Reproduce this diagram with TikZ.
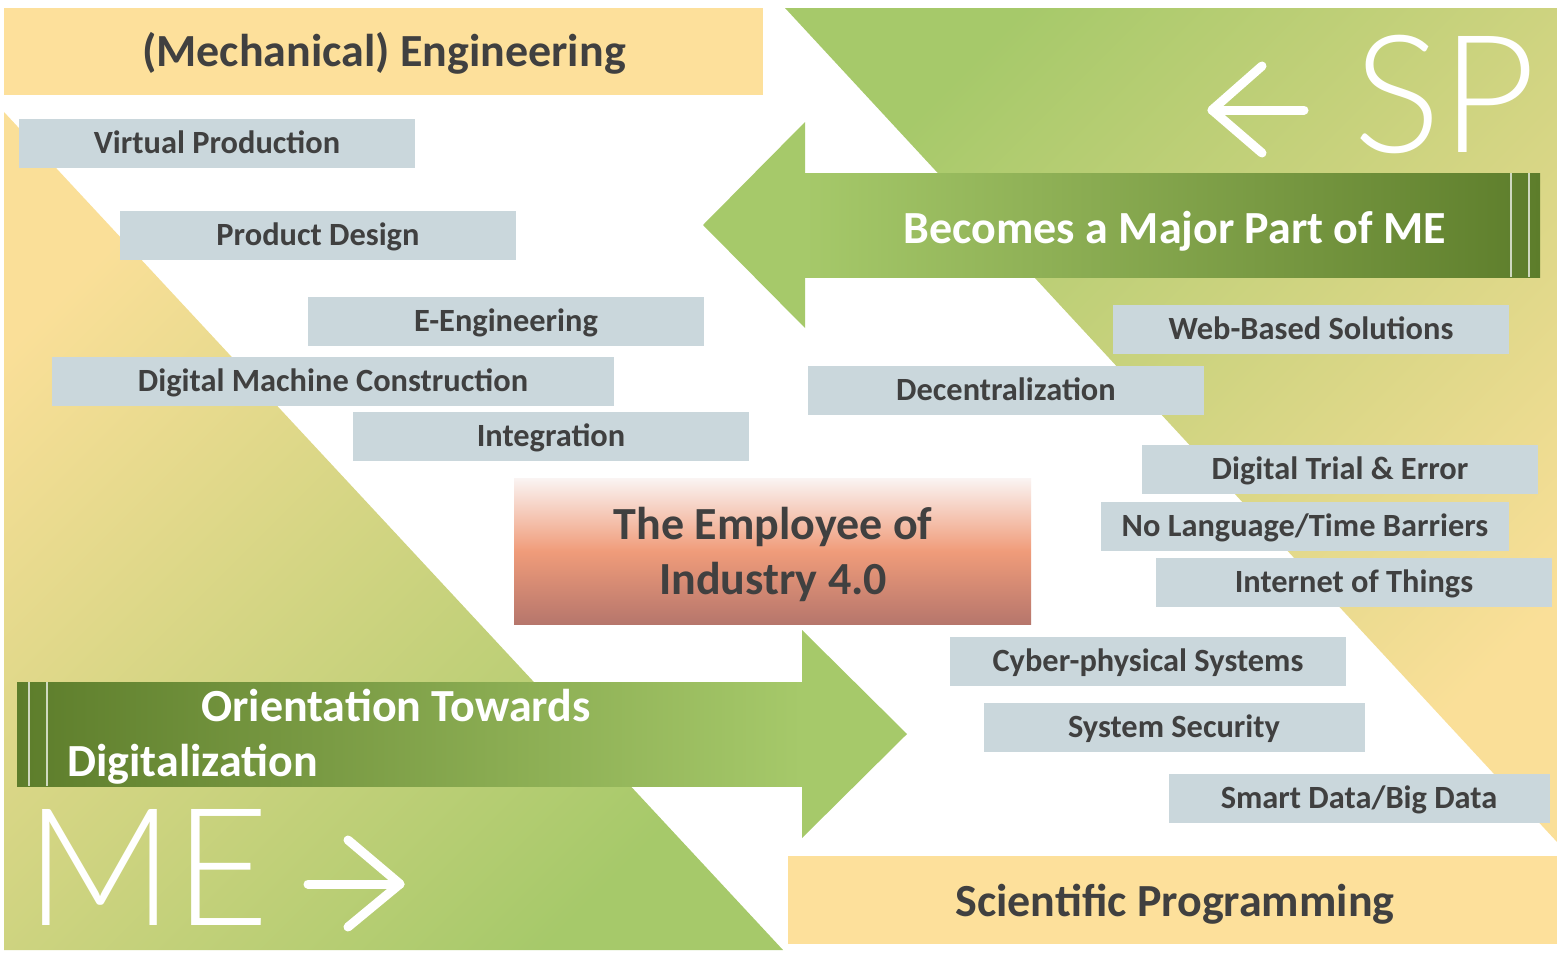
\documentclass[tikz,border=0pt]{standalone}
\usepackage{fontspec}
\setmainfont{Carlito}
\newfontfamily\thinfont{Lato Light}
\usepackage{tikz}

\definecolor{bannerYellow}{RGB}{253,224,155}
\definecolor{triYellow}{RGB}{250,223,152}
\definecolor{boxGray}{RGB}{202,215,220}
\definecolor{textGray}{RGB}{64,64,64}
\definecolor{greenLight}{RGB}{166,201,106}
\definecolor{greenDark}{RGB}{93,125,43}
\definecolor{empTop}{RGB}{250,244,243}
\definecolor{empMid}{RGB}{240,156,122}
\definecolor{empBot}{RGB}{182,118,108}

\tikzset{
  topic/.style={fill=boxGray, text=textGray, inner sep=0pt,
    minimum width=198pt, minimum height=24.5pt,
    text height=10.2pt, text depth=0pt,
    font=\bfseries\fontsize{16.2}{19}\selectfont},
  heading/.style={text=textGray, inner sep=0pt, text height=14.5pt, text depth=0pt,
    font=\bfseries\fontsize{23}{27.5}\selectfont},
  arrowtext/.style={text=white, inner sep=0pt, text height=14.5pt, text depth=0pt,
    font=\bfseries\fontsize{23}{27.5}\selectfont},
  bigtext/.style={text=white, inner sep=0pt, font=\thinfont\fontsize{82}{82}\selectfont},
  glyph/.style={white, line width=4.5pt, line cap=round, line join=round}
}

\begin{document}
\begin{tikzpicture}[x=0.5pt, y=-0.5pt]
  \fill[white] (0,0) rectangle (1557,958);
  \useasboundingbox (0,0) rectangle (1557,958);

  % triangles
  \shade[top color=triYellow, bottom color=greenLight, shading angle=45]
    (4,112) -- (4,950) -- (783,950) -- cycle;
  \shade[top color=greenLight, bottom color=triYellow, shading angle=45]
    (785,8) -- (1557,8) -- (1557,842) -- cycle;

  % banners
  \fill[bannerYellow] (4,8) rectangle (763,95);
  \node[heading] (me) at (384,52) {(Mechanical) Engineering};
  \fill[bannerYellow] (788,856) rectangle (1557,944);
  \node[heading] (sp) at (1175,902) {Scientific Programming};

  % arrow to the left
  \fill[greenLight] (703,225) -- (805,122) -- (805,328) -- cycle;
  \shade[left color=greenLight, right color=greenDark] (805,173) rectangle (1540,277);
  \draw[white, opacity=0.7, line width=0.8pt] (1511,173) -- (1511,277);
  \draw[white, opacity=0.7, line width=0.8pt] (1529,173) -- (1529,277);
  \node[arrowtext] (major) at (1175,229) {Becomes a Major Part of ME};

  % arrow to the right
  \shade[left color=greenDark, right color=greenLight] (17,682) rectangle (802,786);
  \fill[greenLight] (802,630) -- (907,734) -- (802,838) -- cycle;
  \draw[white, opacity=0.7, line width=0.8pt] (29,682) -- (29,786);
  \draw[white, opacity=0.7, line width=0.8pt] (47,682) -- (47,786);
  \node[arrowtext] (orient) at (396,707) {Orientation Towards};
  \node[arrowtext, anchor=west] (digit) at (67,762) {Digitalization};

  % big letters
  \node[bigtext, anchor=base] (bigsp) at (1445,152) {SP};
  \draw[glyph] (1304,110) -- (1212,110);
  \draw[glyph] (1262,66) -- (1212,110) -- (1262,153);
  \node[bigtext, anchor=base] (bigme) at (148,925) {ME};
  \draw[glyph] (308,884) -- (400,884);
  \draw[glyph] (348,840) -- (400,884) -- (348,927);

  % left topics
  \node[topic] (vp) at (217,143) {Virtual Production};
  \node[topic] (pd) at (318,235) {Product Design};
  \node[topic] (ee) at (506,321) {E-Engineering};
  \node[topic, minimum width=281pt] (dmc) at (333,381) {Digital Machine Construction};
  \node[topic] (int) at (551,436) {Integration};

  % right topics
  \node[topic] (web) at (1311,329) {Web-Based Solutions};
  \node[topic] (dec) at (1006,390) {Decentralization};
  \node[topic] (dte) at (1340,469) {Digital Trial \& Error};
  \node[topic, minimum width=204pt] (nlb) at (1305,526) {No Language/Time Barriers};
  \node[topic] (iot) at (1354,582) {Internet of Things};
  \node[topic] (cps) at (1148,661) {Cyber-physical Systems};
  \node[topic, minimum width=190.5pt] (sec) at (1174,727) {System Security};
  \node[topic, minimum width=190.5pt] (sbd) at (1359,798) {Smart Data/Big Data};

  % center
  \shade[top color=empTop, bottom color=empBot, middle color=empMid] (514,478) rectangle (1031,624);
  \node[heading, align=center, text height=42pt] (emp) at (773,552)
    {The Employee of\\Industry 4.0};
\end{tikzpicture}
\end{document}
